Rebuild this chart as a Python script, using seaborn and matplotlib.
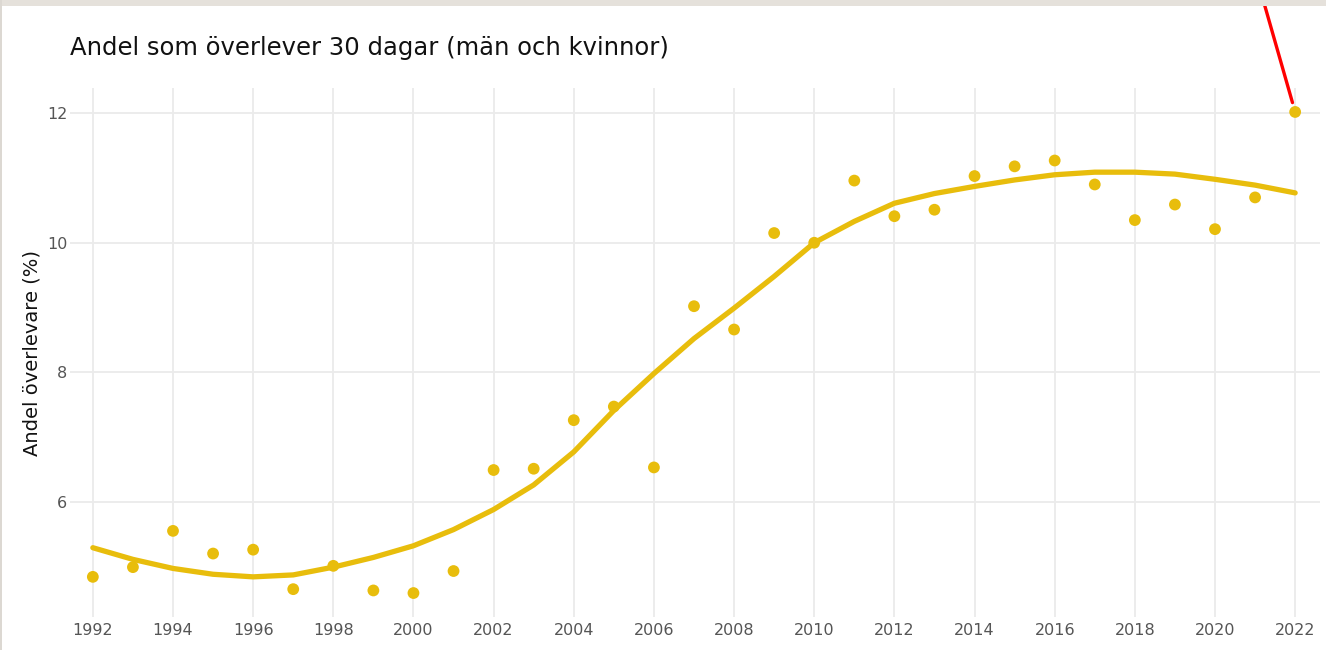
import numpy as np
import pandas as pd
import matplotlib
matplotlib.use("Agg")
import matplotlib.pyplot as plt
import seaborn as sns
from matplotlib.patches import Rectangle

# ---- data ----
years = list(range(1992, 2023))
observed = [4.84, 4.99, 5.55, 5.20, 5.26, 4.65, 5.01, 4.63, 4.59, 4.93,
            6.49, 6.51, 7.26, 7.47, 6.53, 9.02, 8.66, 10.15, 10.00, 10.96,
            10.41, 10.51, 11.03, 11.18, 11.27, 10.90, 10.35, 10.59, 10.21, 10.70,
            12.02]
trend = [5.29, 5.11, 4.97, 4.88, 4.84, 4.87, 4.99, 5.14, 5.32, 5.57,
         5.88, 6.26, 6.77, 7.41, 7.98, 8.52, 8.99, 9.48, 10.00, 10.33,
         10.61, 10.76, 10.87, 10.97, 11.05, 11.09, 11.09, 11.06, 10.98, 10.89,
         10.77]
x_ticks = list(range(1992, 2023, 2))
y_ticks = [6, 8, 10, 12]

title = "Andel som överlever 30 dagar (män och kvinnor)"
ylabel = "Andel överlevare (%)"

df = pd.DataFrame({"year": years, "observed": observed, "trend": trend})

GOLD = "#E8BD0C"

sns.set_theme(style="whitegrid")
plt.rcParams["font.family"] = ["DejaVu Sans"]

fig = plt.figure(figsize=(13.26, 6.5), dpi=100)
ax = fig.add_axes([70/1326, 1-617/650, (1320-70)/1326, (617-88)/650])

sns.lineplot(data=df, x="year", y="trend", ax=ax, color=GOLD, linewidth=3.8, zorder=3)
sns.scatterplot(data=df, x="year", y="observed", ax=ax, color=GOLD, s=72,
                edgecolor="none", zorder=4)

ax.set_xlim(1991.43, 2022.62)
ax.set_ylim(4.22, 12.39)
ax.set_xticks(x_ticks)
ax.set_yticks(y_ticks)
ax.set_xticklabels([str(v) for v in x_ticks])
ax.set_yticklabels([str(v) for v in y_ticks])
ax.tick_params(axis="both", length=0, labelsize=11.5, labelcolor="#555555")
ax.tick_params(axis="x", pad=4)
ax.tick_params(axis="y", pad=2)
ax.grid(True, color="#ebebeb", linewidth=1.3)
for s in ax.spines.values():
    s.set_visible(False)
ax.set_facecolor("white")

ax.set_xlabel("")
ax.set_ylabel(ylabel, fontsize=14, color="#111111", labelpad=4)
fig.text(70/1326, 1-48/650, title, fontsize=17.5, color="#111111",
         ha="left", va="center")

# page decorations: top band and left border
fig.patches.append(Rectangle((0, 1-6/650), 1, 6/650, transform=fig.transFigure,
                             facecolor="#e5e1db", edgecolor="none", zorder=0))
fig.patches.append(Rectangle((0, 0), 1.5/1326, 1, transform=fig.transFigure,
                             facecolor="#dcd8d2", edgecolor="none", zorder=0))

# red pointer line toward the latest value
ax.annotate("", xy=(years[-1], observed[-1]), xycoords="data",
            xytext=(-32, 112), textcoords="offset pixels",
            arrowprops=dict(arrowstyle="-", color="red", lw=2.4,
                            shrinkA=0, shrinkB=7),
            annotation_clip=False)

fig.savefig("out.png", dpi=100, facecolor="white")
